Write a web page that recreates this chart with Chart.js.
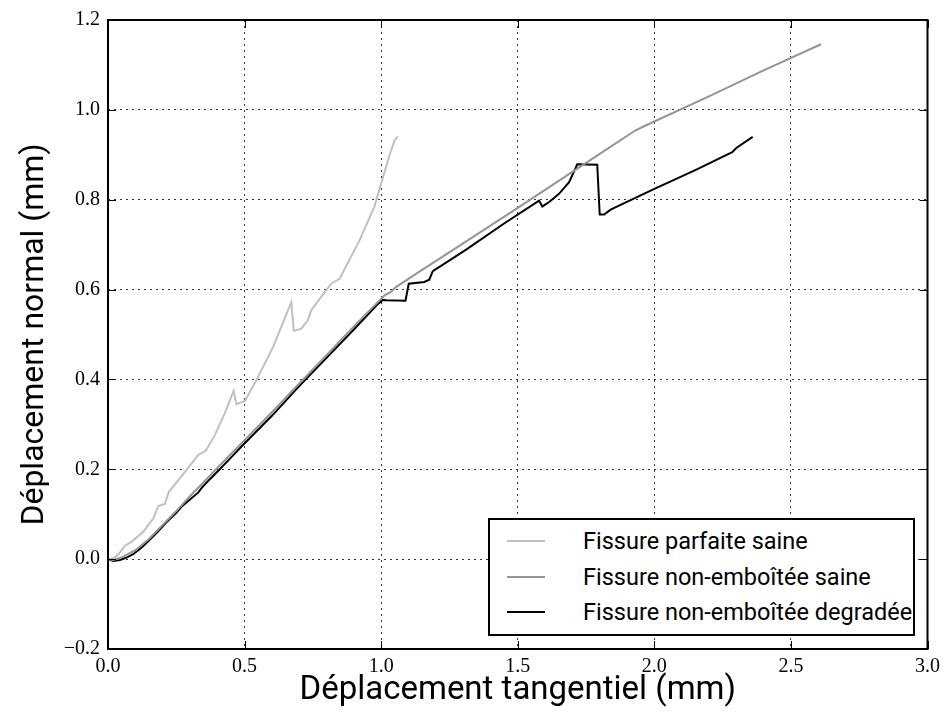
<!DOCTYPE html>
<html>
<head>
<meta charset="utf-8">
<script src="https://cdn.jsdelivr.net/npm/chart.js@4.4.1/dist/chart.umd.min.js"></script>
<style>
  html, body { margin: 0; padding: 0; background: #fff; }
  #wrap { position: relative; width: 946px; height: 717px; }
  #legend { position: absolute; left: 488px; top: 518px; width: 427px; height: 118px;
            box-sizing: border-box; border: 2px solid #000; background: #fff;
            font-family: Roboto, "DejaVu Sans", sans-serif; font-size: 23.5px; color: #000; }
  .row { position: absolute; left: 0; height: 30px; width: 100%; }
  .sample { position: absolute; left: 17px; width: 38px; height: 2px; top: 14px; }
  .lbl { position: absolute; left: 93px; top: 0; line-height: 30px; white-space: nowrap; }
</style>
</head>
<body>
<div id="wrap">
  <canvas id="c" width="946" height="717"></canvas>
  <div id="legend"></div>
</div>
<script>
// ---- data ----
const seriesNames = ["Fissure parfaite saine", "Fissure non-emboîtée saine", "Fissure non-emboîtée degradée"];
const seriesColors = ["#c0c0c0", "#959595", "#000000"];

const parfaiteX = [0, 0.022, 0.04, 0.062, 0.087, 0.129, 0.166, 0.184, 0.208, 0.223, 0.287, 0.33, 0.358, 0.391, 0.427, 0.46, 0.47, 0.501, 0.543, 0.555, 0.604, 0.671, 0.68, 0.708, 0.732, 0.744, 0.817, 0.848, 0.921, 0.975, 1.0, 1.03, 1.049, 1.061];
const parfaiteY = [0, 0.002, 0.012, 0.03, 0.039, 0.061, 0.091, 0.118, 0.123, 0.15, 0.198, 0.232, 0.241, 0.276, 0.324, 0.375, 0.345, 0.352, 0.398, 0.413, 0.472, 0.572, 0.508, 0.513, 0.532, 0.554, 0.613, 0.624, 0.71, 0.784, 0.836, 0.898, 0.932, 0.941];

const saineX = [0, 0.02, 0.05, 0.1, 0.15, 0.2, 0.25, 0.3, 0.35, 0.4, 0.45, 0.5, 0.6, 0.7, 0.8, 0.9, 0.994, 1.012, 1.036, 1.055, 1.14, 1.3, 1.5, 1.7, 1.85, 1.93, 1.96, 2.2, 2.4, 2.61];
const saineY = [0, -0.002, 0.004, 0.02, 0.045, 0.076, 0.107, 0.14, 0.171, 0.203, 0.234, 0.265, 0.327, 0.391, 0.454, 0.518, 0.576, 0.587, 0.595, 0.606, 0.64, 0.703, 0.782, 0.862, 0.922, 0.954, 0.963, 1.03, 1.088, 1.146];

const degradeeX = [0, 0.02, 0.044, 0.07, 0.092, 0.12, 0.153, 0.18, 0.214, 0.25, 0.27, 0.30, 0.33, 0.345, 0.373, 0.409, 0.45, 0.494, 0.6, 0.7, 0.8, 0.9, 0.985, 1.006, 1.02, 1.089, 1.101, 1.158, 1.176, 1.189, 1.311, 1.45, 1.578, 1.59, 1.615, 1.651, 1.688, 1.718, 1.791, 1.8, 1.816, 1.84, 2.0, 2.15, 2.285, 2.3, 2.36];
const degradeeY = [0, -0.004, -0.002, 0.004, 0.011, 0.024, 0.043, 0.06, 0.082, 0.103, 0.117, 0.133, 0.148, 0.16, 0.178, 0.2, 0.226, 0.254, 0.319, 0.385, 0.448, 0.511, 0.566, 0.577, 0.576, 0.575, 0.613, 0.617, 0.622, 0.641, 0.689, 0.747, 0.798, 0.785, 0.795, 0.813, 0.839, 0.879, 0.878, 0.767, 0.767, 0.778, 0.824, 0.866, 0.906, 0.915, 0.94];

const xTicks = [0, 0.5, 1.0, 1.5, 2.0, 2.5, 3.0];
const yTicks = [-0.2, 0, 0.2, 0.4, 0.6, 0.8, 1.0, 1.2];
const xTitle = "Déplacement tangentiel (mm)";
const yTitle = "Déplacement normal (mm)";

// ---- build ----
function pts(xs, ys) { return xs.map((x, i) => ({ x: x, y: ys[i] })); }
const allX = [parfaiteX, saineX, degradeeX];
const allY = [parfaiteY, saineY, degradeeY];

const datasets = seriesNames.map((n, i) => ({
  label: n,
  data: pts(allX[i], allY[i]),
  borderColor: seriesColors[i],
  borderWidth: 2,
  pointRadius: 0,
  tension: 0,
  fill: false,
  showLine: true
}));

// legend (HTML)
const lg = document.getElementById('legend');
const rowTops = [6, 42, 77];
seriesNames.forEach((n, i) => {
  const r = document.createElement('div');
  r.className = 'row';
  r.style.top = rowTops[i] + 'px';
  const s = document.createElement('div');
  s.className = 'sample';
  s.style.background = seriesColors[i];
  const t = document.createElement('div');
  t.className = 'lbl';
  t.textContent = n;
  r.appendChild(s); r.appendChild(t);
  lg.appendChild(r);
});

const fmt = v => (Math.round(v * 10) / 10).toFixed(1).replace('-', '\u2212');

const frame = {
  id: 'frame',
  afterDatasetsDraw(chart) {
    const { ctx, chartArea: a, scales } = chart;
    ctx.save();
    ctx.strokeStyle = '#000';
    ctx.lineWidth = 1;
    const L = 8;
    ctx.beginPath();
    xTicks.forEach(v => {
      const p = Math.round(scales.x.getPixelForValue(v)) + 0.5;
      ctx.moveTo(p, a.bottom); ctx.lineTo(p, a.bottom - L);
      ctx.moveTo(p, a.top); ctx.lineTo(p, a.top + L);
    });
    yTicks.forEach(v => {
      const p = Math.round(scales.y.getPixelForValue(v)) + 0.5;
      ctx.moveTo(a.left, p); ctx.lineTo(a.left + L, p);
      ctx.moveTo(a.right, p); ctx.lineTo(a.right - L, p);
    });
    ctx.stroke();
    ctx.lineWidth = 2;
    ctx.strokeRect(a.left, a.top, a.right - a.left, a.bottom - a.top);
    ctx.restore();
  }
};

new Chart(document.getElementById('c'), {
  type: 'scatter',
  data: { datasets },
  options: {
    responsive: false,
    animation: false,
    devicePixelRatio: 1,
    layout: { padding: { left: 0, right: 17, top: 19, bottom: 0 } },
    plugins: { legend: { display: false }, tooltip: { enabled: false } },
    scales: {
      x: {
        type: 'linear', min: 0, max: 3,
        afterBuildTicks: s => { s.ticks = xTicks.map(v => ({ value: v })); },
        afterFit: s => { s.height = 68; },
        ticks: { callback: fmt, color: '#000', padding: 6, maxRotation: 0,
                 font: { family: 'Liberation Serif', size: 20 } },
        grid: { color: c => (c.tick && (c.tick.value === 0 || c.tick.value === 3)) ? 'rgba(0,0,0,0)' : '#333',
                lineWidth: 1, drawTicks: false },
        border: { display: false, dash: [2, 4] },
        title: { display: true, text: xTitle, color: '#000',
                 font: { family: 'Roboto', size: 33 }, padding: { top: 0, bottom: 6 } }
      },
      y: {
        type: 'linear', min: -0.2, max: 1.2,
        afterBuildTicks: s => { s.ticks = yTicks.map(v => ({ value: v })); },
        afterFit: s => { s.width = 108; },
        ticks: { callback: fmt, color: '#000', padding: 8,
                 font: { family: 'Liberation Serif', size: 20 } },
        grid: { color: c => (c.tick && (Math.abs(c.tick.value + 0.2) < 1e-9 || Math.abs(c.tick.value - 1.2) < 1e-9)) ? 'rgba(0,0,0,0)' : '#333',
                lineWidth: 1, drawTicks: false },
        border: { display: false, dash: [2, 4] },
        title: { display: true, text: yTitle, color: '#000',
                 font: { family: 'Roboto', size: 32 }, padding: { top: 16, bottom: 0 } }
      }
    }
  },
  plugins: [frame]
});
</script>
</body>
</html>
